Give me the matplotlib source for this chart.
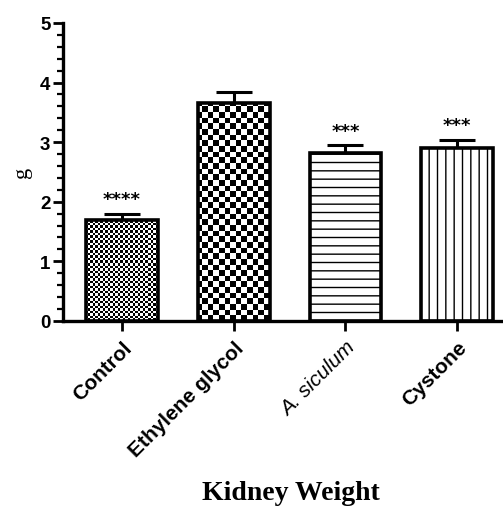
import numpy as np
import matplotlib.pyplot as plt
from matplotlib.ticker import MultipleLocator

# ---------- data ----------
groups = ["Control", "Ethylene glycol", "A. siculum", "Cystone"]
weight_mean = [1.70, 3.66, 2.82, 2.90]
weight_sem = [0.10, 0.18, 0.13, 0.14]
stars = ["****", "", "***", "***"]

plt.rcParams["hatch.linewidth"] = 1.0
plt.rcParams["hatch.color"] = "#555555"

fig = plt.figure(figsize=(5.03, 5.10), dpi=100)
ax = fig.add_axes([0.125, 0.369, 0.875, 0.584])

xs = np.arange(len(groups))
faces = ["none", "none", "white", "white"]
bars = ax.bar(xs, weight_mean, width=0.64, color=faces, edgecolor="black",
              linewidth=2.6, zorder=3)
ax.errorbar(xs, weight_mean, yerr=[np.zeros(len(xs)), weight_sem], fmt="none",
            ecolor="black", elinewidth=2.2, capsize=13, capthick=2.2, zorder=2)

ax.set_xlim(-0.53, 3.41)
ax.set_ylim(0, 5)

# checkerboard fills for the first two bars, line hatches for the others
fig.canvas.draw()
x0, y0, w_px, h_px = ax.bbox.bounds


def checker(cell_px):
    nx = int(round(w_px / cell_px))
    ny = int(round(h_px / cell_px))
    ii, jj = np.indices((ny, nx))
    return ((ii + jj) % 2).astype(float)


for bar, cell in [(bars[0], 2.5), (bars[1], 5.6)]:
    img = ax.imshow(checker(cell), cmap="gray", vmin=0, vmax=1,
                    extent=(*ax.get_xlim(), *ax.get_ylim()), aspect="auto",
                    interpolation="nearest", zorder=2.5)
    img.set_clip_path(bar)
ax.set_xlim(-0.53, 3.41)
ax.set_ylim(0, 5)

bars[2].set_hatch("--")
bars[3].set_hatch("||")

# significance marks
for x, m, e, s in zip(xs, weight_mean, weight_sem, stars):
    if s:
        ax.annotate(s, (x, m + e), xytext=(0, 4), textcoords="offset points",
                    ha="center", va="bottom", fontsize=13, fontweight="bold")

# axes styling
for side in ["top", "right"]:
    ax.spines[side].set_visible(False)
ax.spines["left"].set_linewidth(2.4)
ax.spines["bottom"].set_linewidth(2.4)
ax.spines["bottom"].set_zorder(4)

ax.yaxis.set_major_locator(MultipleLocator(1))
ax.yaxis.set_minor_locator(MultipleLocator(0.2))
ax.tick_params(axis="y", which="major", length=7, width=2, labelsize=13.5, pad=2)
ax.tick_params(axis="y", which="minor", length=4, width=1.6)
ax.tick_params(axis="x", length=7, width=2, pad=5)
for lab in ax.get_yticklabels():
    lab.set_fontweight("bold")
    lab.set_family("Liberation Sans")

ax.set_xticks(xs)
ax.set_xticklabels(groups, rotation=45, ha="right", rotation_mode="anchor",
                   fontsize=15, family="Liberation Sans", fontweight="bold")
lab = ax.get_xticklabels()[2]
lab.set_fontweight("normal")
lab.set_style("italic")

ax.set_ylabel("g", family="Liberation Serif", fontsize=16, labelpad=6)

fig.text(0.578, 0.033, "Kidney Weight", family="Liberation Serif",
         fontweight="bold", fontsize=20, ha="center", va="center")

fig.savefig("out.png", dpi=100)
